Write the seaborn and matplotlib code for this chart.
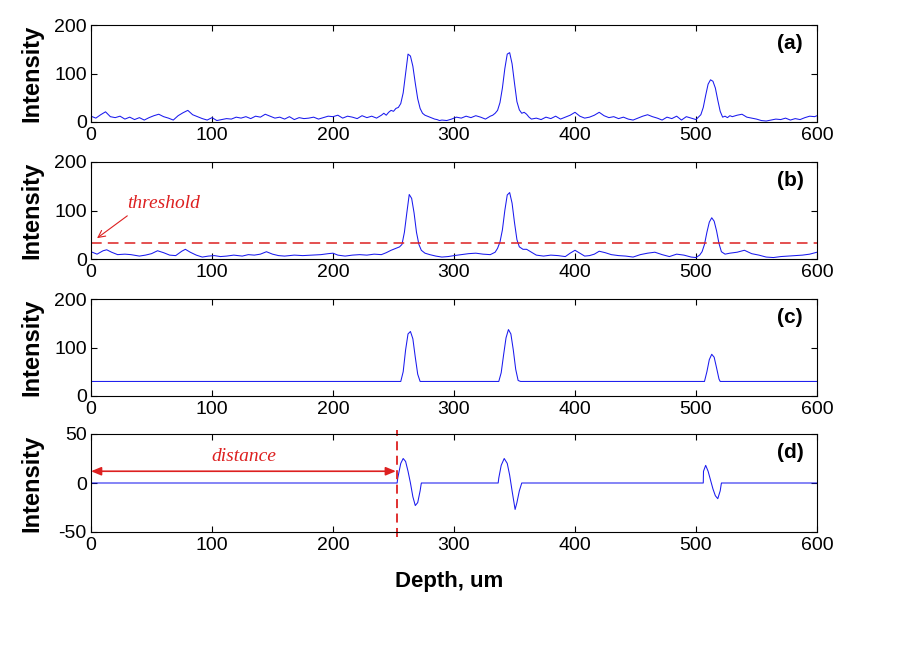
import numpy as np
import pandas as pd
import matplotlib
matplotlib.use('Agg')
import matplotlib.pyplot as plt
import seaborn as sns

# ---------------- data ----------------
depth_a = [0,4,8,12,16,20,24,28,32,36,40,44,48,52,56,60,64,68,72,76,80,84,88,92,96,100,104,108,112,116,
           120,124,128,132,136,140,144,148,152,156,160,164,168,172,176,180,184,188,192,196,200,204,208,212,
           216,220,224,228,232,236,240,
           242,244,246,248,250,252,254,256,258,260,262,264,266,268,270,272,274,276,278,280,282,284,286,288,290,
           294,298,302,306,310,314,318,322,326,330,
           332,334,336,338,340,342,344,346,348,350,352,354,356,358,360,362,364,
           368,372,376,380,384,388,392,396,400,404,408,412,416,420,424,428,432,436,440,444,448,452,456,460,
           464,468,472,476,480,484,488,492,496,500,
           502,504,506,508,510,512,514,516,518,520,522,524,526,528,530,
           534,538,542,546,550,554,558,562,566,570,574,578,582,586,590,594,598,600]
int_a = [12,8,15,21,11,9,12,6,10,5,9,4,9,13,16,11,8,4,13,19,24,15,11,7,4,9,3,5,7,6,
         10,8,11,7,12,10,16,12,8,10,6,11,5,9,7,8,10,6,9,12,11,14,8,12,
         10,7,13,9,12,8,14,
         18,14,20,24,22,28,30,38,60,100,140,136,115,80,48,28,18,14,12,10,8,6,5,3,4,
         3,6,10,8,12,9,13,10,6,12,
         14,18,24,40,70,110,140,143,120,80,42,25,18,20,16,10,6,
         8,5,10,7,12,6,10,14,20,12,8,10,14,20,13,9,11,7,10,6,4,8,12,15,
         11,8,4,10,7,12,4,11,8,5,
         10,15,30,55,78,87,84,70,45,22,10,12,9,13,11,
         14,16,10,8,6,3,2,4,6,5,8,4,7,5,9,12,11,13]

depth_b = [0,5,10,13,17,22,28,33,40,45,50,55,60,65,70,75,78,82,87,92,97,102,107,112,118,125,130,135,140,
           145,150,155,160,168,175,182,190,196,200,204,210,216,222,228,234,240,244,248,252,255,257,259,261,
           263,265,267,269,271,273,276,280,285,290,295,300,306,312,318,324,330,334,336,338,340,342,344,346,
           348,350,352,354,357,360,364,368,374,380,386,392,396,400,404,408,412,416,420,425,430,436,442,448,
           454,460,466,472,478,484,490,496,500,503,505,507,509,511,513,515,517,519,521,524,528,534,540,546,
           552,558,564,570,576,582,588,594,600]
int_b = [15,10,17,19,14,9,10,9,6,8,11,17,13,8,7,16,20,14,8,4,6,7,5,6,8,6,9,8,10,
         15,10,7,6,8,7,8,9,11,12,8,6,8,9,8,10,9,13,18,22,25,30,55,95,
         133,125,95,55,30,18,12,9,6,4,5,7,9,11,12,10,9,14,22,35,60,100,132,137,
         115,75,40,25,20,20,14,8,6,8,7,5,12,18,12,6,7,10,16,13,9,7,6,4,
         9,12,14,9,5,10,8,4,3,8,15,30,55,76,85,78,58,32,15,10,12,14,18,11,
         8,4,3,5,6,7,8,10,14]

threshold = 32

depth_c = [0,256,258,260,262,264,266,268,270,272,
           337,339,341,343,345,347,349,351,353,355,
           507,509,511,513,515,517,519,520,600]
int_c = [30,30,50,95,128,133,118,80,45,30,
         30,48,85,120,137,128,95,55,32,30,
         30,50,75,86,80,58,35,30,30]

depth_d = [0,253,253.5,256,258,260,262,264,266,268,270,272,273,
           336.5,337,339,341.5,344,346,348,350.5,352,354,356,
           506,506.2,508,510,512,514,516,518,520,521,600]
int_d = [0,0,5,20,25,22,12,0,-14,-23,-20,-8,0,
         0,5,18,25,20,8,-8,-27,-20,-8,0,
         0,12,18,12,3,-6,-13,-16,-8,0,0]

peak_start = 253
x_ticks = [0, 100, 200, 300, 400, 500, 600]
panel_labels = ['(a)', '(b)', '(c)', '(d)']

# ---------------- style ----------------
sns.set_style('ticks')
plt.rcParams['font.family'] = ['Liberation Sans', 'DejaVu Sans']
plt.rcParams['axes.unicode_minus'] = False
for k in ['text.color', 'axes.labelcolor', 'xtick.color', 'ytick.color', 'axes.edgecolor']:
    plt.rcParams[k] = 'black'

fig = plt.figure(figsize=(9.01, 6.47), dpi=100)
W, H = 901, 647
left, right = 91, 817
tops_bottoms = [(25, 122), (162, 259), (299, 396), (434, 532)]
axes = []
for t, b in tops_bottoms:
    ax = fig.add_axes([left / W, 1 - b / H, (right - left) / W, (b - t) / H])
    axes.append(ax)

series = [(depth_a, int_a), (depth_b, int_b), (depth_c, int_c), (depth_d, int_d)]
red = '#dd2020'
line_blue = '#1a1aee'

for i, (ax, (x, y)) in enumerate(zip(axes, series)):
    df = pd.DataFrame({'Depth': x, 'Intensity': y})
    sns.lineplot(data=df, x='Depth', y='Intensity', ax=ax, color=line_blue,
                 lw=0.75, estimator=None, sort=False)
    ax.set_xlim(0, 600)
    if i < 3:
        ax.set_ylim(0, 200)
        ax.set_yticks([0, 100, 200])
    else:
        ax.set_ylim(-50, 50)
        ax.set_yticks([-50, 0, 50])
    ax.set_xticks(x_ticks)
    ax.tick_params(direction='in', top=True, right=True, labelsize=14,
                   length=4, width=0.8, colors='black')
    ax.tick_params(axis='x', pad=3.5)
    ax.tick_params(axis='y', pad=3)
    for s in ax.spines.values():
        s.set_linewidth(0.8)
        s.set_color('black')
    ax.set_xlabel('')
    ax.set_ylabel('Intensity', fontsize=17, fontweight='bold', color='black')
    ax.yaxis.set_label_coords(-0.066, 0.5)
    ax.text(0.963, 0.81, panel_labels[i], transform=ax.transAxes, ha='center',
            va='center', fontsize=15, fontweight='bold', color='black')

# threshold in (b)
axb = axes[1]
axb.axhline(threshold, color=red, lw=1.1, ls=(0, (7, 4)))
axb.text(30, 115, 'threshold', family='Liberation Serif', style='italic',
         color=red, fontsize=14, ha='left', va='center')
axb.annotate('', xy=(5, 43), xytext=(30, 89),
             arrowprops=dict(arrowstyle='->,head_length=0.5,head_width=0.25',
                             color=red, lw=0.8, shrinkA=0, shrinkB=0))

# distance in (d)
axd = axes[3]
axd.axvline(peak_start, ymin=-0.05, ymax=1.04, color=red, lw=1.3,
            ls=(0, (5, 3)), clip_on=False)
axd.annotate('', xy=(0, 12), xytext=(peak_start - 1, 12),
             arrowprops=dict(arrowstyle='<|-|>,head_length=0.6,head_width=0.25',
                             color=red, lw=1.2, shrinkA=0, shrinkB=0))
axd.text(126, 27, 'distance', family='Liberation Serif', style='italic',
         color=red, fontsize=14, ha='center', va='center')

fig.text(449 / W, 1 - 582 / H, 'Depth, um', ha='center', va='center',
         fontsize=16, fontweight='bold', color='black')

fig.savefig('out.png', dpi=100, facecolor='white')
